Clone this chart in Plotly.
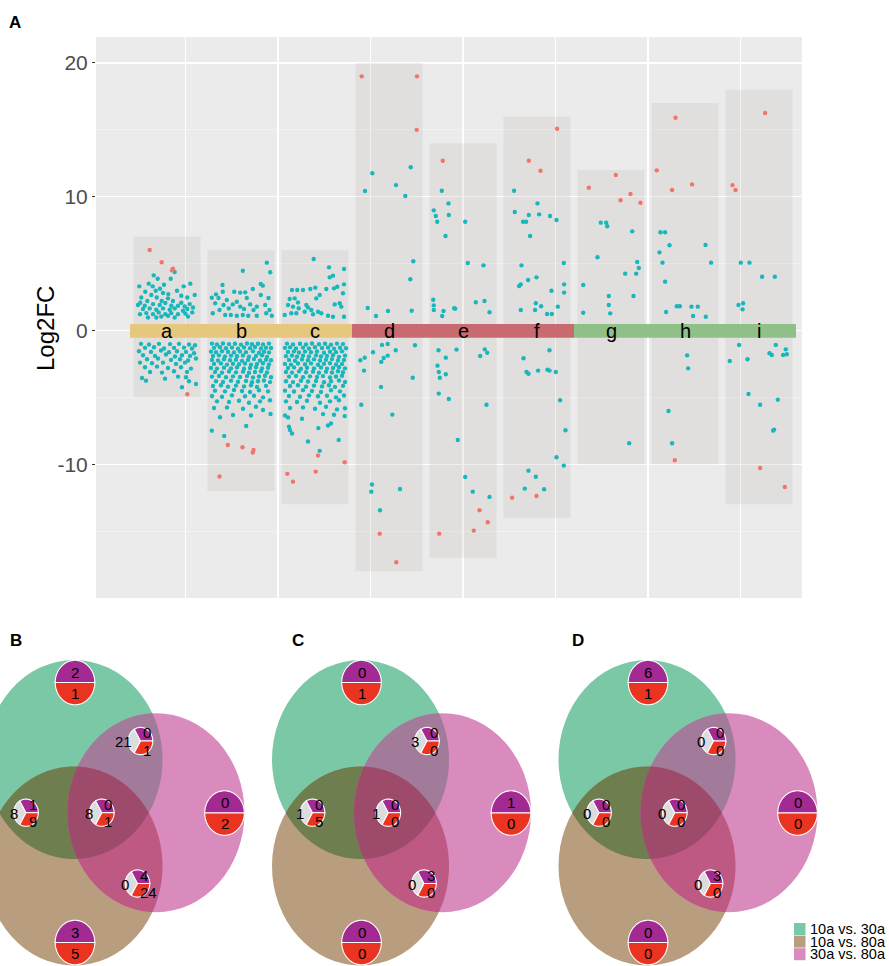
import numpy as np
import plotly.graph_objects as go

W, H = 889, 966
FONT = "Liberation Sans, Arial, sans-serif"

# ---------------- Panel A data ----------------
groups = list("abcdefghi")
column_top = [7, 6, 6, 20, 14, 16, 12, 17, 18]
column_bottom = [-5, -12, -13, -18, -17, -14, -10, -10, -13]
band_colors = ["#E5C87E", "#C86A70", "#8FC088"]   # a-c, d-f, g-i
y_tick_vals = [-10, 0, 10, 20]
y_tick_text = ["-10", "0", "10", "20"]

# points: (jitter, Log2FC); jitter in 1/74 of a column step
teal_a = [(-13.3,4.12),(7.7,4.37),(-9.3,3.87),(3.7,3.87),(-18.3,3.5),(-3,3.42),(-27.7,3.3),(-14.3,3.3),(23.3,3.5),(16.7,3.3),
          (-7,3.12),(10,2.97),(-21.7,2.9),(-4,2.8),(-15.7,2.65),(27.7,2.65),(-25.7,2.47),(-10.3,2.47),(1,2.4),(20.3,2.47),
          (-19.7,2.2),(6,2.2),(14.3,2.07),(-29,1.9),(-14,1.97),(-7.3,1.9),(-1.7,2.05),(11,1.85),(22.7,1.97),(26,1.72),
          (-24,1.6),(-17.3,1.65),(-10.7,1.55),(-4,1.65),(2.7,1.55),(7.7,1.65),(16,1.47),(20.3,1.6),(-27,1.22),(-20.7,1.3),
          (-14,1.22),(-8.3,1.35),(-1.7,1.22),(4.3,1.3),(11,1.22),(18.3,1.27),(25.3,1.35),(-19,0.97),(-5.7,1.05),(7.7,0.97),
          (21,1.05),(1,1.1),(-10.7,0.97),(-22.3,1.85),(4.3,1.85),(17.7,1.8),(-5.3,2.2),(1.3,2.72),(14.3,2.6),(-11.3,2.97),(-26.7,2.07),
          (-26,-1.0),(-18,-1.05),(-8,-1.0),(3,-1.02),(12,-1.0),(22,-1.05),(28,-1.1),
          (-22,-1.3),(-13,-1.25),(-3,-1.35),(7,-1.3),(17,-1.28),(25,-1.35),
          (-28,-1.55),(-16,-1.6),(-6,-1.5),(2,-1.62),(10,-1.55),(19,-1.6),(27,-1.7),
          (-24,-1.85),(-12,-1.9),(-1,-1.8),(8,-1.95),(15,-1.85),(23,-1.9),
          (-20,-2.15),(-9,-2.1),(4,-2.2),(13,-2.15),(21,-2.25),(29,-2.1),
          (-27,-2.4),(-15,-2.45),(-4,-2.4),(9,-2.5),(18,-2.4),
          (-22,-2.75),(-10,-2.7),(1,-2.8),(14,-2.75),(24,-2.85),
          (-17,-3.1),(-5,-3.15),(7,-3.05),(20,-3.1),
          (-25,-3.55),(-21,-3.75),(-2,-3.6),(11,-3.45),(19,-3.5),(22,-3.8),(15,-4.24),(29,-4.0)]
red_a = [(-17.3,6.02),(-5.3,5.1),(5,4.5),(6,4.62),(20.3,-4.77)]

teal_b = [(25.8,5.07),(29.2,4.35),(1.8,4.47),(-18.5,3.4),(19.8,3.47),(21.8,3.35),(11.8,3.1),(-6.8,2.9),(-0.8,2.83),(4.2,2.85),
          (-18.2,2.9),(-29.2,2.45),(-22.5,2.43),(-14.2,2.28),(-4.2,2.15),(5.8,2.43),(19.8,2.65),(27.5,2.43),(-25.8,2.03),(-17.5,1.9),
          (-8.2,1.95),(-0.8,1.78),(9.2,1.95),(15.8,1.78),(24.2,1.9),(-28.2,1.29),(-21.5,1.53),(-15.8,1.16),(-10.2,1.16),(-4.2,1.1),
          (1.8,1.16),(7.2,1.1),(15.8,1.1),(25.2,1.29),(30.8,1.1),(-12.2,1.65),(12.5,1.53),(28.5,1.53),(-25,2.7),(3,1.6),
          (-29,-0.98),(-24,-1.05),(-18,-0.97),(-12,-1.02),(-6,-0.99),(0,-1.06),(6,-0.97),(11,-1.03),(17,-0.99),(22,-1.04),(28,-0.98),
          (-27,-1.3),(-21,-1.25),(-15,-1.33),(-9,-1.28),(-3,-1.36),(3,-1.27),(9,-1.32),(14,-1.24),(20,-1.35),(25,-1.29),(30,-1.31),
          (-30,-1.58),(-25,-1.63),(-19,-1.55),(-13,-1.6),(-7,-1.65),(-1,-1.57),(5,-1.62),(12,-1.56),(18,-1.66),(23,-1.59),(28,-1.64),
          (-28,-1.9),(-22,-1.86),(-16,-1.95),(-10,-1.88),(-4,-1.93),(2,-1.87),(8,-1.96),(15,-1.9),(21,-1.85),(26,-1.97),
          (-29,-2.2),(-23,-2.25),(-17,-2.15),(-11,-2.22),(-5,-2.18),(1,-2.27),(7,-2.2),(13,-2.14),(19,-2.24),(25,-2.19),(30,-2.23),
          (-27,-2.5),(-20,-2.46),(-14,-2.55),(-8,-2.49),(-2,-2.53),(4,-2.47),(10,-2.56),(16,-2.5),(22,-2.45),(28,-2.54),
          (-30,-2.8),(-24,-2.85),(-17,-2.78),(-10,-2.83),(-4,-2.76),(3,-2.86),(9,-2.8),(15,-2.75),(21,-2.84),(27,-2.79),
          (-26,-3.1),(-19,-3.15),(-12,-3.07),(-5,-3.13),(2,-3.08),(8,-3.16),(14,-3.1),(20,-3.05),(26,-3.14),
          (-29,-3.45),(-22,-3.4),(-15,-3.5),(-8,-3.43),(-1,-3.48),(6,-3.41),(12,-3.52),(18,-3.44),(24,-3.39),(30,-3.5),
          (-25,-3.8),(-18,-3.85),(-10,-3.75),(-3,-3.83),(5,-3.78),(11,-3.87),(17,-3.8),(23,-3.74),(29,-3.86),
          (-28,-4.15),(-20,-4.1),(-13,-4.2),(-5,-4.12),(3,-4.18),(10,-4.1),(16,-4.22),(25,-4.14),
          (-26,-4.5),(-16,-4.55),(-7,-4.45),(1,-4.52),(9,-4.6),(18,-4.47),(27,-4.55),
          (-29,-4.9),(-19,-4.95),(-9,-4.85),(4,-4.92),(13,-4.88),(22,-5.0),
          (-24,-5.3),(-12,-5.35),(-2,-5.25),(8,-5.4),(19,-5.3),(29,-5.22),
          (-27,-5.8),(-14,-5.75),(2,-5.85),(15,-5.7),(22,-5.94),
          (-21,-6.49),(-8,-6.32),(29.5,-6.24),(10,-6.35),
          (-29.2,-7.49),(-16.8,-7.88),(5.2,-7.14)]
red_b = [(-13.2,-8.56),(1.5,-8.73),(12.5,-8.93),(11.8,-9.13),(-21.5,-10.92)]

teal_c = [(-1.3,5.34),(14,4.72),(29,4.6),(18,4.1),(14.7,3.97),(29,3.45),(-23,3.03),(-17.7,3.03),(-12,3.03),(-4.7,3.1),
          (0.3,3.2),(11.3,3.1),(19,3.15),(22.3,3.27),(4.7,2.65),(1.3,2.4),(28,2.78),(-25.3,2.35),(-20.3,2.4),(-27,1.9),
          (-22,1.78),(-16.3,1.66),(-8.7,1.9),(-7,1.72),(-3.7,1.53),(3,1.4),(6.3,1.29),(19.7,1.95),(24.7,2.03),(26.3,1.78),
          (-30.3,1.16),(-23.7,1.29),(-18.7,1.29),(-2,1.21),(13,1.1),(18,1.03),(29,1.03),(-10.3,1.4),(-17,2.1),
          (-28,-0.98),(-22,-1.04),(-15,-0.99),(-9,-1.05),(-3,-0.97),(4,-1.03),(10,-0.99),(16,-1.06),(22,-0.98),(28,-1.02),
          (-30,-1.3),(-25,-1.26),(-19,-1.34),(-12,-1.28),(-6,-1.35),(0,-1.25),(7,-1.31),(13,-1.27),(19,-1.36),(25,-1.29),(31,-1.33),
          (-27,-1.6),(-21,-1.56),(-16,-1.65),(-10,-1.58),(-4,-1.63),(2,-1.57),(9,-1.66),(15,-1.59),(21,-1.62),(27,-1.56),
          (-29,-1.92),(-23,-1.87),(-18,-1.96),(-12,-1.89),(-6,-1.94),(1,-1.86),(6,-1.95),(12,-1.9),(18,-1.85),(24,-1.97),(30,-1.88),
          (-26,-2.2),(-20,-2.26),(-13,-2.17),(-7,-2.23),(-1,-2.16),(5,-2.25),(11,-2.19),(17,-2.14),(23,-2.24),(29,-2.2),
          (-30,-2.5),(-24,-2.55),(-17,-2.47),(-10,-2.53),(-4,-2.46),(3,-2.56),(9,-2.49),(15,-2.45),(21,-2.54),(27,-2.5),
          (-27,-2.8),(-21,-2.76),(-14,-2.86),(-8,-2.79),(-1,-2.84),(6,-2.77),(12,-2.85),(18,-2.8),(24,-2.75),(30,-2.83),
          (-29,-3.1),(-23,-3.15),(-16,-3.06),(-9,-3.12),(-2,-3.08),(4,-3.16),(11,-3.09),(17,-3.14),(23,-3.05),(28,-3.12),
          (-26,-3.45),(-19,-3.4),(-12,-3.5),(-5,-3.43),(2,-3.48),(8,-3.41),(15,-3.52),(21,-3.44),(27,-3.39),
          (-29,-3.8),(-22,-3.86),(-14,-3.76),(-7,-3.82),(1,-3.78),(9,-3.87),(16,-3.8),(24,-3.74),(30,-3.85),
          (-25,-4.15),(-17,-4.1),(-9,-4.2),(-1,-4.12),(7,-4.18),(14,-4.1),(20,-4.22),(28,-4.14),
          (-30,-4.5),(-21,-4.56),(-12,-4.46),(-3,-4.52),(6,-4.6),(16,-4.47),(25,-4.55),
          (-26,-4.9),(-15,-4.95),(-6,-4.85),(3,-4.92),(12,-4.88),(21,-5.0),(29,-4.86),
          (-29,-5.3),(-18,-5.35),(-8,-5.25),(5,-5.4),(15,-5.3),(24,-5.22),
          (-25,-5.8),(-12,-5.75),(0,-5.85),(11,-5.7),(22,-5.9),(30,-5.82),
          (-30,-6.35),(-27,-6.5),(-13,-6.6),(8,-6.25),(19,-6.3),(29.7,-6.4),
          (-26,-7.2),(-25,-7.44),(-23,-7.7),(3.3,-7.3),(13,-7.1),(16,-6.95),
          (-7,-8.3),(23.7,-8.18),(4.7,-9.0)]
red_c = [(3,-9.35),(29.7,-9.85),(-27.7,-10.72),(0.7,-10.55),(-22,-11.3)]

teal_d = [(-16.7,11.75),(-24,10.43),(7,10.87),(16.3,10.05),(21.7,12.2),(24.3,5.17),(21.3,3.83),(-21.3,1.68),(-13,1.08),(-1,1.46),(22.7,1.48),
          (-7,-1.08),(-1.3,-1.01),(6.7,-1.48),(26,-1.11),(-16,-1.63),(-24.3,-2.03),(-28.7,-2.23),(-5.3,-2.06),(-1.3,-1.88),(-7.7,-2.35),
          (-25,-3.0),(23.7,-3.53),(-8,-4.22),(-27.7,-5.55),(3.3,-6.29),(-17,-11.52),(-17.7,-12.05),(11,-11.85),(-9,-13.44)]
red_d = [(-27.3,19),(28,19),(27.7,15.0),(-9.3,-15.19),(7.3,-17.33)]

teal_e = [(-21.2,10.45),(-14.5,9.5),(-29.2,8.98),(-27.2,8.56),(-25.8,8.13),(-14.2,8.63),(2.2,8.13),(-17.5,7.06),(4.8,5.04),(20.5,4.87),
          (-29.8,2.3),(-29.2,1.88),(-29.2,1.53),(-19.5,1.46),(-20.8,1.08),(-8.8,1.66),(-7.8,1.63),(12.8,2.11),(21.5,2.2),(26.5,1.36),
          (-24.5,-1.48),(-6.5,-1.43),(-17.2,-2.03),(21.8,-1.41),(24.2,-1.66),(17.2,-1.91),(-25.5,-2.63),(-24.2,-3.1),(-17.2,-3.27),
          (-23.2,-3.53),(-24.2,-4.72),(-14.2,-5.12),(23.5,-5.55),(-5.2,-8.18),(2.2,-10.95),(9.8,-12.05),(26.5,-12.44)]
red_e = [(-20.2,12.69),(16.5,-13.44),(24.8,-14.34),(10.8,-14.96),(-23.8,-15.19)]

teal_f = [(-22.9,10.45),(-22.2,8.86),(-13.9,8.13),(-10.9,8.13),(-8.2,8.63),(0.5,9.5),(2.1,8.68),(13.1,8.56),(19.5,8.26),(-6.9,7.06),
          (-15.5,4.87),(26.8,5.04),(-17.9,3.33),(-16.2,3.45),(-8.9,3.77),(-0.5,3.97),(14.5,2.97),(27.1,3.45),(27.1,2.83),(-16.2,1.53),
          (-1.9,1.53),(-1.2,2.03),(4.1,1.81),(10.1,1.23),(14.8,1.23),(20.8,1.78),
          (-13.5,-2.08),(12.5,-1.48),(-10.5,-3.1),(-8.5,-3.23),(1.1,-3.0),(10.5,-2.93),(12.5,-3.0),(18.8,-3.1),(23.1,-5.22),
          (28.5,-7.46),(19.5,-9.48),(26.8,-10.1),(-8.5,-10.48),(-1.2,-10.93),(-12.2,-11.82),(7.1,-11.87)]
red_f = [(20.1,15.08),(-8.2,12.69),(3.5,11.94),(-24.9,-12.5),(-0.5,-12.37)]

teal_g = [(-10.2,8.06),(-4.8,8.06),(-3.8,7.79),(21.2,7.41),(-13.5,5.47),(26.2,5.12),(27.8,4.67),(14.2,4.25),(25.2,4.25),(-27.8,3.4),
          (-2.2,2.58),(22.5,2.58),(-2.2,1.91),(-27.8,1.33),(-0.8,1.28),(18.2,-8.43)]
red_g = [(-22.2,10.67),(4.8,11.62),(9.5,9.73),(19.5,10.2),(29.5,9.55)]

teal_h = [(-24.5,7.34),(-19.9,7.34),(-15.5,6.37),(20.5,6.39),(-25.5,5.84),(-22.5,5.07),(26.1,5.07),(-19.9,3.65),(-18.9,1.38),(-8.2,1.81),
          (-5.2,1.81),(6.5,1.78),(12.8,1.78),(8.1,1.08),(20.8,1.03),(2.1,-1.86),(3.1,-2.83),(-16.5,-6.02),(-12.9,-8.43)]
red_h = [(-9.5,15.9),(-28.2,11.97),(-12.9,10.5),(7.1,10.92),(-10.2,-9.7)]

teal_i = [(-18.2,5.07),(-9.5,5.07),(3.1,4.02),(15.8,4.02),(-20.5,1.91),(-15.9,2.03),(-16.5,1.58),
          (-19.9,-1.08),(-29.2,-2.28),(-11.5,-2.15),(16.8,-1.08),(10.5,-1.7),(12.8,-1.83),(26.8,-1.41),(27.8,-1.78),(24.1,-1.83),
          (-10.5,-4.75),(1.1,-5.55),(18.8,-5.17),(14.1,-7.49),(15.1,-7.41)]
red_i = [(6.1,16.26),(-26.5,10.87),(-23.5,10.5),(1.1,-10.28),(25.8,-11.7)]

teal_cols = [teal_a, teal_b, teal_c, teal_d, teal_e, teal_f, teal_g, teal_h, teal_i]
red_cols = [red_a, red_b, red_c, red_d, red_e, red_f, red_g, red_h, red_i]

# ---------------- Venn data (B, C, D) ----------------
venn_panels = ["B", "C", "D"]
legend_labels = ["10a vs. 30a", "10a vs. 80a", "30a vs. 80a"]
# two-part pies (up, down)
only_10v30 = [(2, 1), (0, 1), (6, 1)]
only_30v80 = [(0, 2), (1, 0), (0, 0)]
only_10v80 = [(3, 5), (0, 0), (0, 0)]
# three-part pies (grey, up, down)
both_10v30_30v80 = [(21, 0, 1), (3, 0, 0), (0, 0, 0)]
both_10v30_10v80 = [(8, 1, 9), (1, 0, 5), (0, 0, 0)]
all_three = [(8, 0, 1), (1, 0, 0), (0, 0, 0)]
both_10v80_30v80 = [(0, 4, 24), (0, 3, 0), (0, 3, 0)]

# ---------------- styling / layout constants ----------------
TEAL, RED = "#17B7BC", "#F1756C"
COL_STEP_PX = 74.0
COL_HALF = 0.453
PURPLE, PIEred, PIEgrey = "#A22A92", "#EA3421", "#DCDCDC"
GREEN, BROWN, PINK = "#7BC8A6", "#B89D7F", "#DA8BBE"
GB, GP, BP, GBP = "#6F7E4E", "#A27A9A", "#BD5983", "#9D4A6B"
venn_cx = [74, 360.5, 647]
VRX, VRY = 88.5, 99.5
GREEN_CY, BROWN_CY, PINK_DX, PINK_CY = 759.5, 866.0, 82.0, 812.7

fig = go.Figure()

# ---------------- Panel A traces ----------------
def col_xy(cols):
    xs, ys = [], []
    for i, pts in enumerate(cols):
        for j, v in pts:
            xs.append(i + j / COL_STEP_PX)
            ys.append(v)
    return xs, ys

tx, ty = col_xy(teal_cols)
rx_, ry_ = col_xy(red_cols)
fig.add_trace(go.Scatter(x=tx, y=ty, mode="markers", marker=dict(size=4.4, color=TEAL),
                         showlegend=False, hoverinfo="skip", xaxis="x", yaxis="y"))
fig.add_trace(go.Scatter(x=rx_, y=ry_, mode="markers", marker=dict(size=4.4, color=RED),
                         showlegend=False, hoverinfo="skip", xaxis="x", yaxis="y"))

shapes = []
annotations = []

shapes.append(dict(type="rect", xref="x domain", yref="y domain", x0=0, x1=1, y0=0, y1=1,
                   fillcolor="#EBEBEB", line=dict(width=0), layer="below"))
for i, g in enumerate(groups):
    shapes.append(dict(type="rect", xref="x", yref="y", x0=i - COL_HALF, x1=i + COL_HALF,
                       y0=column_bottom[i], y1=column_top[i],
                       fillcolor="rgba(175,166,158,0.17)", line=dict(width=0), layer="between"))
for k in range(3):
    shapes.append(dict(type="rect", xref="x", yref="y", x0=3 * k - 0.5, x1=3 * k + 2.5,
                       y0=-0.55, y1=0.48, fillcolor=band_colors[k], line=dict(width=0), layer="between"))
for i, g in enumerate(groups):
    annotations.append(dict(x=i, y=-0.05, xref="x", yref="y", text=g, showarrow=False,
                            font=dict(family=FONT, size=20, color="black"), yanchor="middle"))

# ---------------- Venn ----------------
def ell_pts(cx, cy, rx, ry, n=720):
    t = np.linspace(0, 2 * np.pi, n, endpoint=False)
    return np.c_[cx + rx * np.cos(t), cy + ry * np.sin(t)]

def inside(P, e):
    cx, cy, rx, ry = e
    return ((P[:, 0] - cx) / rx) ** 2 + ((P[:, 1] - cy) / ry) ** 2 <= 1 + 1e-9

def poly_path(P):
    return "M" + "L".join(f"{x:.2f},{y:.2f}" for x, y in P) + "Z"

def intersection_path(ells):
    pts = []
    for a, e in enumerate(ells):
        P = ell_pts(*e)
        m = np.ones(len(P), bool)
        for b, o in enumerate(ells):
            if a != b:
                m &= inside(P, o)
        pts.append(P[m])
    P = np.vstack(pts)
    c = P.mean(0)
    P = P[np.argsort(np.arctan2(P[:, 1] - c[1], P[:, 0] - c[0]))]
    return poly_path(P)

def wedge(cx, cy, rx, ry, a0, a1, color, n=48):
    t = np.radians(np.linspace(a0, a1, n))
    P = np.vstack([[cx, cy], np.c_[cx + rx * np.cos(t), cy - ry * np.sin(t)]])
    return dict(type="path", xref="x2", yref="y2", path=poly_path(P), fillcolor=color,
                line=dict(color="white", width=1.1), layer="above")

def num(x, y, t, anchor="center"):
    annotations.append(dict(x=x, y=y, xref="x2", yref="y2", text=str(t), showarrow=False,
                            xanchor=anchor, yanchor="middle",
                            font=dict(family=FONT, size=15, color="black")))

def pie2(cx, cy, vals):
    shapes.append(wedge(cx, cy, 19.8, 22.2, 0, 180, PURPLE))
    shapes.append(wedge(cx, cy, 19.8, 22.2, 180, 360, PIEred))
    num(cx, cy - 10.5, vals[0])
    num(cx, cy + 10.8, vals[1])

def pie3(cx, cy, vals):
    shapes.append(wedge(cx, cy, 12.3, 13.6, 120, 240, PIEgrey))
    shapes.append(wedge(cx, cy, 12.3, 13.6, 0, 120, PURPLE))
    shapes.append(wedge(cx, cy, 12.3, 13.6, 240, 360, PIEred))
    num(cx - 6.5, cy + 0.5, vals[0], "right")
    num(cx + 0.5, cy - 8.5, vals[1], "left")
    num(cx + 0.5, cy + 9.0, vals[2], "left")

for p, cx in enumerate(venn_cx):
    eg = (cx, GREEN_CY, VRX, VRY)
    eb = (cx, BROWN_CY, VRX, VRY)
    ep = (cx + PINK_DX, PINK_CY, VRX, VRY)
    for e, col in ((eg, GREEN), (eb, BROWN), (ep, PINK)):
        shapes.append(dict(type="circle", xref="x2", yref="y2", x0=e[0] - e[2], x1=e[0] + e[2],
                           y0=e[1] - e[3], y1=e[1] + e[3], fillcolor=col, line=dict(width=0), layer="below"))
    for es, col in (([eg, eb], GB), ([eg, ep], GP), ([eb, ep], BP), ([eg, eb, ep], GBP)):
        shapes.append(dict(type="path", xref="x2", yref="y2", path=intersection_path(es),
                           fillcolor=col, line=dict(width=0), layer="below"))
    pie2(cx + 1, 682.5, only_10v30[p])
    pie2(cx + 150.5, 813.0, only_30v80[p])
    pie2(cx + 1, 942.5, only_10v80[p])
    pie3(cx + 66.5, 741.0, both_10v30_30v80[p])
    pie3(cx - 48, 812.7, both_10v30_10v80[p])
    pie3(cx + 27.8, 812.7, all_three[p])
    pie3(cx + 63.5, 883.5, both_10v80_30v80[p])

# legend
for k, (lab, col) in enumerate(zip(legend_labels, [GREEN, BROWN, PINK])):
    yc = 929 + 12.6 * k
    shapes.append(dict(type="rect", xref="x2", yref="y2", x0=794, x1=805.5, y0=yc - 6, y1=yc + 6,
                       fillcolor=col, line=dict(width=0), layer="above"))
    annotations.append(dict(x=808, y=yc, xref="x2", yref="y2", text=lab, showarrow=False,
                            xanchor="left", yanchor="middle",
                            font=dict(family=FONT, size=14.5, color="black")))

# panel labels
def paper(px, py):
    return px / W, 1 - py / H

for lab, (px, py) in zip(["A", "B", "C", "D"], [(15, 22), (16, 640), (298, 640), (578, 640)]):
    x, y = paper(px, py)
    annotations.append(dict(x=x, y=y, xref="paper", yref="paper", text=f"<b>{lab}</b>", showarrow=False,
                            xanchor="center", yanchor="middle", font=dict(family=FONT, size=17, color="black")))
x, y = paper(46, 329)
annotations.append(dict(x=x, y=y, xref="paper", yref="paper", text="Log2FC", textangle=-90, showarrow=False,
                        xanchor="center", yanchor="middle", font=dict(family=FONT, size=24, color="black")))

fig.update_layout(
    width=W, height=H, margin=dict(l=0, r=0, t=0, b=0, pad=0),
    paper_bgcolor="white", plot_bgcolor="rgba(0,0,0,0)", showlegend=False,
    font=dict(family=FONT),
    xaxis=dict(domain=[96 / W, 802 / W], range=[(96 - 167) / COL_STEP_PX, (802 - 167) / COL_STEP_PX],
               tickmode="linear", tick0=0.25, dtick=1.25, showticklabels=False, ticks="",
               showgrid=True, gridcolor="white", gridwidth=1.3, zeroline=False, showline=False, fixedrange=True),
    yaxis=dict(domain=[1 - 598 / H, 1 - 37 / H], range=[-20.0, 21.94],
               tickmode="array", tickvals=y_tick_vals, ticktext=y_tick_text,
               ticks="outside", ticklen=3, tickcolor="#333333",
               tickfont=dict(family=FONT, size=21, color="#4D4D4D"),
               showgrid=True, gridcolor="white", gridwidth=1.3, zeroline=False, showline=False,
               minor=dict(tickmode="linear", tick0=-15, dtick=10, showgrid=True, gridcolor="#F5F5F5",
                          gridwidth=0.7, ticks=""),
               fixedrange=True),
    xaxis2=dict(domain=[0, 1], range=[0, W], visible=False, anchor="y2", fixedrange=True),
    yaxis2=dict(domain=[0, (H - 605) / H], range=[H, 605], visible=False, anchor="x2", fixedrange=True),
    shapes=shapes, annotations=annotations,
)

fig.write_html("out.html", config={"displayModeBar": False, "staticPlot": True},
               post_script="document.body.style.margin='0';document.body.style.padding='0';"
                           "document.body.style.overflow='hidden';")
